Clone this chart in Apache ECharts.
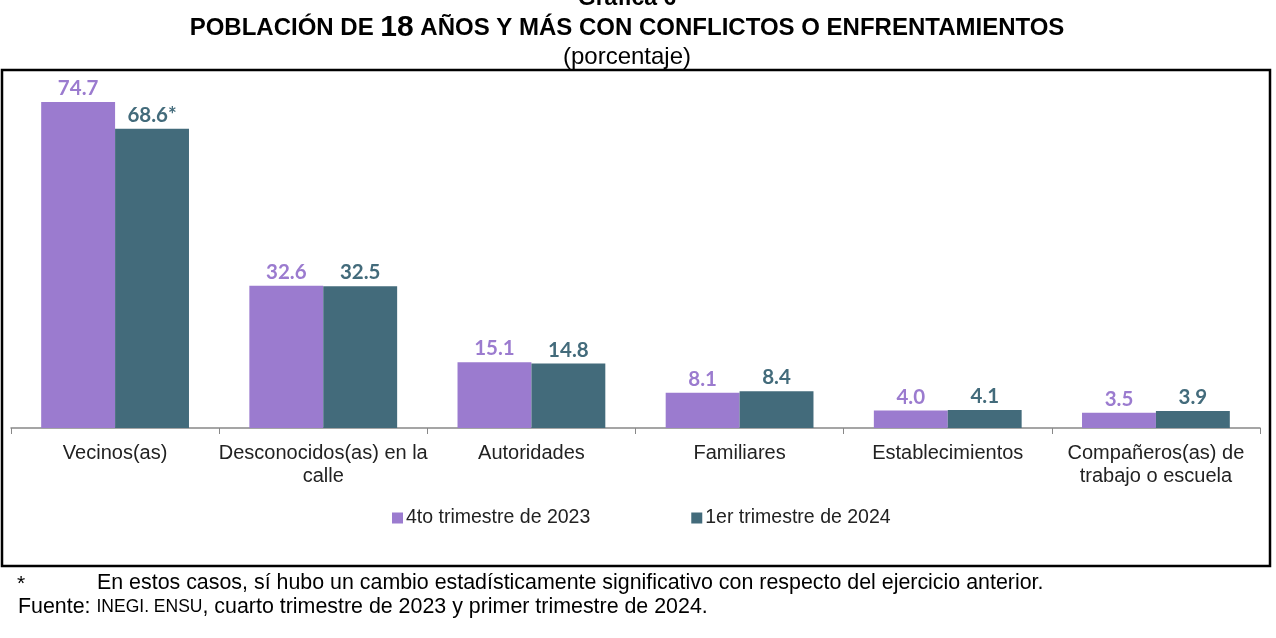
<!DOCTYPE html>
<html><head><meta charset="utf-8">
<script src="https://cdn.jsdelivr.net/npm/echarts@6/dist/echarts.min.js"></script>
<style>html,body{margin:0;padding:0;background:#fff}#c{width:1276px;height:638px}</style>
</head><body><div id="c"></div>
<script>
const categories = ['Vecinos(as)', 'Desconocidos(as) en la\ncalle', 'Autoridades', 'Familiares', 'Establecimientos', 'Compañeros(as) de\ntrabajo o escuela'];
const seriesNames = ['4to trimestre de 2023', '1er trimestre de 2024'];
const values2023 = [74.7, 32.6, 15.1, 8.1, 4.0, 3.5];
const values2024 = [68.6, 32.5, 14.8, 8.4, 4.1, 3.9];
const significant2024 = [true, false, false, false, false, false];

const PURPLE = '#9b7bcf', TEAL = '#436b7b';
const chart = echarts.init(document.getElementById('c'), null, {renderer: 'canvas'});
const labelFont = {fontFamily: 'Lato', fontWeight: 'bold', fontSize: 20.5};
chart.setOption({
  animation: false,
  title: [
    {text: 'Gráfica 6', left: 622, textAlign: 'center', top: -18, textStyle: {fontFamily: 'Liberation Sans', fontWeight: 'bold', fontSize: 23, color: '#000'}},
    {text: '{a|POBLACIÓN DE }{b|18}{a| AÑOS Y MÁS CON CONFLICTOS O ENFRENTAMIENTOS}', left: 622, textAlign: 'center', top: 8,
      textStyle: {rich: {a: {fontFamily: 'Liberation Sans', fontWeight: 'bold', fontSize: 24, color: '#000'}, b: {fontFamily: 'Liberation Sans', fontWeight: 'bold', fontSize: 30, color: '#000'}}}},
    {text: '(porcentaje)', left: 622, textAlign: 'center', top: 40, textStyle: {fontFamily: 'Liberation Sans', fontWeight: 'normal', fontSize: 24, color: '#000'}}
  ],
  graphic: [
    {type: 'rect', shape: {x: 2, y: 70, width: 1268, height: 496}, style: {fill: 'none', stroke: '#000', lineWidth: 2.5}, silent: true},
    {type: 'text', left: 17, top: 574, style: {text: '*', font: '21px "Liberation Sans"', fill: '#000'}},
    {type: 'text', left: 97, top: 573, style: {text: 'En estos casos, sí hubo un cambio estadísticamente significativo con respecto del ejercicio anterior.', font: '21.4px "Liberation Sans"', fill: '#000'}},
    {type: 'text', left: 18, top: 597, style: {text: '{a|Fuente: }{s|INEGI. ENSU}{a|, cuarto trimestre de 2023 y primer trimestre de 2024.}',
      rich: {a: {fontFamily: 'Liberation Sans', fontSize: 21.4, fill: '#000'}, s: {fontFamily: 'Liberation Sans', fontSize: 17.5, fill: '#000'}}}}
  ],
  legend: {
    data: seriesNames, top: 503, left: 387, itemWidth: 11, itemHeight: 11, itemGap: 101, itemStyle: {borderWidth: 0},
    icon: 'rect',
    textStyle: {fontFamily: 'Liberation Sans', fontSize: 19.5, color: '#222', padding: [0, 0, 0, -2]}
  },
  grid: {left: 11, right: 16, top: 79, bottom: 638 - 428},
  xAxis: {
    type: 'category', data: categories,
    axisLine: {lineStyle: {color: '#888', width: 1.5}},
    axisTick: {show: true, length: 6, lineStyle: {color: '#888'}},
    axisLabel: {fontFamily: 'Liberation Sans', fontSize: 20, color: '#222', lineHeight: 23, margin: 14, interval: 0}
  },
  yAxis: {type: 'value', min: 0, max: 80, show: false, splitLine: {show: false}},
  series: [
    {name: seriesNames[0], type: 'bar', data: values2023, barGap: '0%', barCategoryGap: '29%',
      itemStyle: {color: PURPLE},
      label: {show: true, position: 'top', distance: 3, color: PURPLE, ...labelFont,
        formatter: p => p.value.toFixed(1)}},
    {name: seriesNames[1], type: 'bar', data: values2024,
      itemStyle: {color: TEAL},
      label: {show: true, position: 'top', distance: 3, color: TEAL, ...labelFont,
        formatter: p => p.value.toFixed(1) + (significant2024[p.dataIndex] ? '*' : '')}}
  ]
});
</script></body></html>
